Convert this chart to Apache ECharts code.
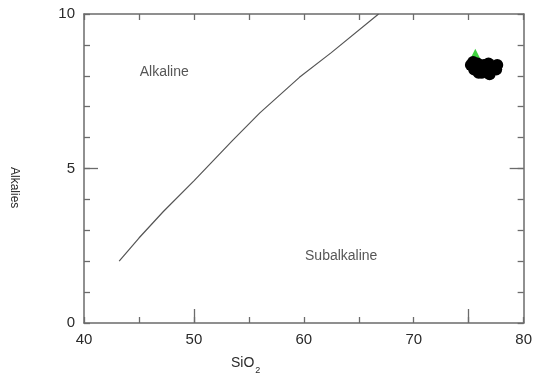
<!DOCTYPE html>
<html>
<head>
<meta charset="utf-8">
<script src="https://cdn.jsdelivr.net/npm/echarts@6/dist/echarts.min.js"></script>
<style>
  html, body { margin: 0; padding: 0; background: #fff; }
  #chart { width: 535px; height: 385px; }
</style>
</head>
<body>
<div id="chart"></div>
<script>
// Alkaline / subalkaline divide (SiO2, Alkalies)
var divideLine = [
    [43.2, 2.0], [45, 2.75], [47.2, 3.6], [50, 4.6], [53.5, 5.9],
    [56, 6.8], [59.6, 7.95], [62.5, 8.75], [66.8, 10]
];

// sample points (black circles)
var samples = [
    [75.2, 8.35], [75.5, 8.2], [75.8, 8.4], [76.0, 8.25], [76.2, 8.1],
    [76.4, 8.35], [76.6, 8.2], [76.8, 8.4], [77.0, 8.15], [77.2, 8.3],
    [77.5, 8.2], [77.6, 8.35], [75.9, 8.1], [76.9, 8.05], [75.4, 8.45]
];

// green triangle
var greenPoints = [[75.6, 8.68]];

var fieldNames = ["Alkaline", "Subalkaline"];
var fieldPos = [[47.3, 8.12], [63.4, 2.17]];

var axisColor = "#6b6b6b";
var textColor = "#2a2a2a";
var font = "Liberation Sans, Arial, sans-serif";

var chart = echarts.init(document.getElementById("chart"));

var tickAxis = function (extra) {
    return Object.assign({
        type: "value",
        axisLine: { show: true, onZero: false, lineStyle: { color: axisColor, width: 1.5 } },
        axisTick: { show: true, inside: true, length: 6, lineStyle: { color: axisColor, width: 1.3 } },
        axisLabel: { show: false },
        splitLine: { show: false }
    }, extra);
};

var longTicks = function (values) {
    return { show: true, inside: true, length: 14, customValues: values, lineStyle: { color: axisColor, width: 1.3 } };
};

var option = {
    backgroundColor: "#fff",
    animation: false,
    grid: { left: 84, right: 9, top: 14, bottom: 62 },
    xAxis: [
        tickAxis({
            position: "bottom", min: 40, max: 80, interval: 5,
            axisLabel: {
                show: true, margin: 9, color: textColor, fontSize: 15, fontFamily: font,
                formatter: function (v) { return v % 10 === 0 ? String(v) : ""; }
            }
        }),
        tickAxis({ position: "top", min: 40, max: 80, interval: 5 }),
        tickAxis({
            position: "bottom", min: 40, max: 80,
            axisLine: { show: false, onZero: false },
            axisTick: longTicks([50, 75])
        })
    ],
    yAxis: [
        tickAxis({
            position: "left", min: 0, max: 10, interval: 1,
            axisLabel: {
                show: true, margin: 9, color: textColor, fontSize: 15, fontFamily: font,
                formatter: function (v) { return v % 5 === 0 ? String(v) : ""; }
            }
        }),
        tickAxis({ position: "right", min: 0, max: 10, interval: 1 }),
        tickAxis({
            position: "left", min: 0, max: 10,
            axisLine: { show: false, onZero: false },
            axisTick: longTicks([5])
        }),
        tickAxis({
            position: "right", min: 0, max: 10,
            axisLine: { show: false, onZero: false },
            axisTick: longTicks([5])
        })
    ],
    graphic: [
        {
            type: "text", left: 231, top: 356,
            style: {
                text: "SiO{sub|2}", fill: textColor, font: "14px " + font,
                rich: { sub: { fontSize: 9, verticalAlign: "bottom", padding: [16, 0, 0, 1], fill: textColor } }
            }
        },
        {
            type: "text", x: 20, y: 167, rotation: -Math.PI / 2,
            style: { text: "Alkalies", fill: textColor, font: "12px " + font }
        }
    ],
    series: [
        {
            type: "line",
            data: divideLine,
            showSymbol: false,
            lineStyle: { color: "#555", width: 1.2 },
            z: 2
        },
        {
            type: "scatter",
            data: fieldNames.map(function (n, i) { return { value: fieldPos[i], name: n }; }),
            symbolSize: 0,
            label: {
                show: true, position: "inside", formatter: "{b}",
                color: textColor, fontSize: 14, fontFamily: font
            }
        },
        {
            type: "scatter",
            data: greenPoints,
            symbol: "triangle",
            symbolSize: 12,
            itemStyle: { color: "#3fd43f", opacity: 1 },
            z: 3
        },
        {
            type: "scatter",
            data: samples,
            symbol: "circle",
            symbolSize: 12,
            itemStyle: { color: "#000", opacity: 1 },
            z: 4
        }
    ]
};

chart.setOption(option);
</script>
</body>
</html>
